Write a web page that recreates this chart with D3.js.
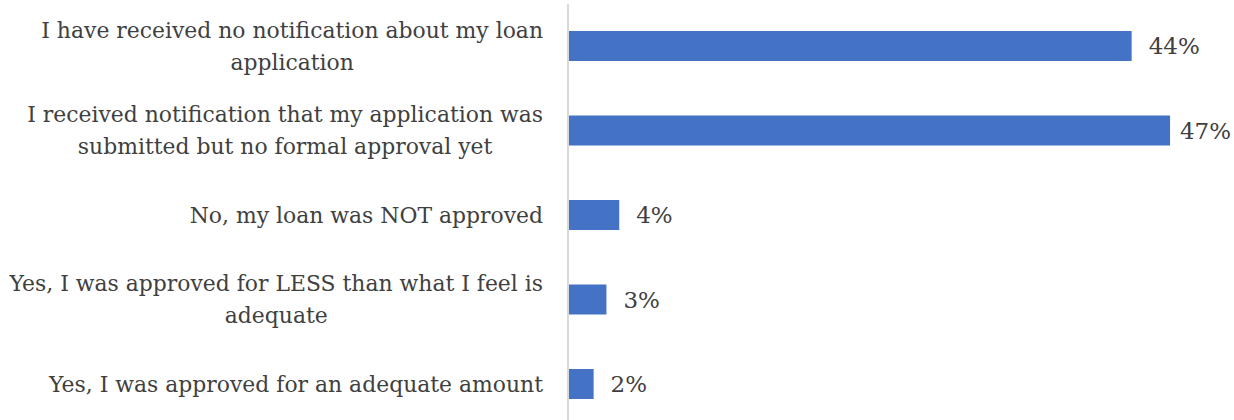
<!DOCTYPE html>
<html>
<head>
<meta charset="utf-8">
<script src="https://cdn.jsdelivr.net/npm/d3@7"></script>
<style>
  html, body { margin: 0; padding: 0; background: #ffffff; }
  svg { display: block; }
  text { font-family: "DejaVu Serif", "Liberation Serif", serif; fill: #404040; }
</style>
</head>
<body>
<svg id="chart" width="1234" height="420"></svg>
<script>
// Survey responses about loan application status
const categories = [
  ["I have received no notification about my loan", "application"],
  ["I received notification that my application was", "submitted but no formal approval yet"],
  ["No, my loan was NOT approved"],
  ["Yes, I was approved for LESS than what I feel is", "adequate"],
  ["Yes, I was approved for an adequate amount"]
];
const values = [44, 47, 4, 3, 2];
const valueLabels = ["44%", "47%", "4%", "3%", "2%"];

const W = 1234, H = 420;
const fontSize = 21.9;
const valueFontSize = 23;
const lineGap = 32;

const svg = d3.select("#chart");

const x = d3.scaleLinear().domain([0, 50]).range([568, 1208.5]);
const y = d3.scaleBand()
  .domain(d3.range(categories.length))
  .range([3.75, 426.25])
  .paddingInner(0.645)
  .paddingOuter(0.3225);

// vertical category axis line
svg.append("line")
  .attr("x1", x(0)).attr("x2", x(0))
  .attr("y1", 4).attr("y2", H)
  .attr("stroke", "#d9d9d9").attr("stroke-width", 2);

// bars
svg.selectAll("rect.bar")
  .data(values)
  .join("rect")
  .attr("class", "bar")
  .attr("x", x(0) + 1)
  .attr("y", (d, i) => y(i))
  .attr("width", d => x(d) - x(0) - 1)
  .attr("height", y.bandwidth())
  .attr("fill", "#4472C4");

// category labels: lines centred within a right-aligned block
const labelRight = 543;
categories.forEach((lines, i) => {
  const cy = y(i) + y.bandwidth() / 2;
  const g = svg.append("g");
  const texts = lines.map((t, k) =>
    g.append("text")
      .attr("font-size", fontSize)
      .attr("dominant-baseline", "central")
      .attr("y", cy + (k - (lines.length - 1) / 2) * lineGap)
      .text(t)
  );
  const widths = texts.map(t => t.node().getComputedTextLength());
  const maxW = d3.max(widths);
  const centre = labelRight - maxW / 2;
  texts.forEach(t => t.attr("x", centre).attr("text-anchor", "middle"));
});

// value labels
svg.selectAll("text.value")
  .data(values)
  .join("text")
  .attr("class", "value")
  .attr("font-size", valueFontSize)
  .attr("dominant-baseline", "central")
  .attr("y", (d, i) => y(i) + y.bandwidth() / 2)
  .text((d, i) => valueLabels[i])
  .each(function (d) {
    const w = this.getComputedTextLength();
    const px = Math.min(x(d) + 17, W - 3 - w);
    d3.select(this).attr("x", px);
  });
</script>
</body>
</html>
